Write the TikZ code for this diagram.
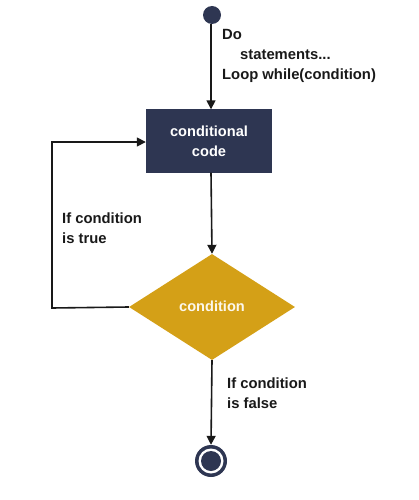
\documentclass[tikz,border=0pt]{standalone}
\usepackage{fontspec}
\setmainfont{Liberation Sans}
\usetikzlibrary{arrows.meta,shapes.geometric}
\definecolor{navy}{RGB}{46,54,82}
\definecolor{gold}{RGB}{212,160,23}
\begin{document}
\begin{tikzpicture}[x=1pt,y=-1pt,
  conn/.style={line width=1.6pt,draw=black!90,-{Triangle[length=9pt,width=9pt]}},
  lbl/.style={font=\fontsize{14.8}{20}\selectfont\bfseries,align=left,inner sep=0pt,text=black!90},
  box/.style={fill=navy,minimum width=126pt,minimum height=63pt,inner sep=0pt,text=white,align=center,font=\fontsize{14.6}{20}\selectfont\bfseries},
  dia/.style={fill=gold,diamond,minimum width=166pt,minimum height=106pt,inner sep=0pt,text=white!92!gold,font=\fontsize{14.6}{20}\selectfont\bfseries}]
\useasboundingbox (0,0) rectangle (419,500);
\node[circle,fill=navy,minimum size=18pt,inner sep=0pt] (start) at (212,15) {};
\node[box] (code) at (209,141) {conditional\\code};
\node[dia,shape aspect=1.566] (cond) at (212,307) {\raisebox{1.5pt}{condition}};
\node[circle,fill=navy,minimum size=32pt,inner sep=0pt] (end) at (211,461) {};
\node[circle,fill=white,minimum size=25pt,inner sep=0pt] (endw) at (end.center) {};
\node[circle,fill=navy,minimum size=20pt,inner sep=0pt] (endi) at (end.center) {};
\coordinate (lc1) at (52,308);
\coordinate (lc2) at (52,142);
\draw[conn] (start.south -| 211,0) -- (code.north -| 211,0);
\draw[conn] (code.south -| 211,0) -- (cond.north);
\draw[conn] (cond.west) -- (lc1) -- (lc2) -- (lc2 -| code.west);
\draw[conn] (cond.south) -- (end.north);
\node[lbl,anchor=north west] (dolbl) at (222,29) {Do\\\hspace*{18pt}statements...\\Loop while(condition)};
\node[lbl,anchor=north west] (truelbl) at (62,213) {If condition\\is true};
\node[lbl,anchor=north west] (falselbl) at (227,378) {If condition\\is false};
\end{tikzpicture}
\end{document}
